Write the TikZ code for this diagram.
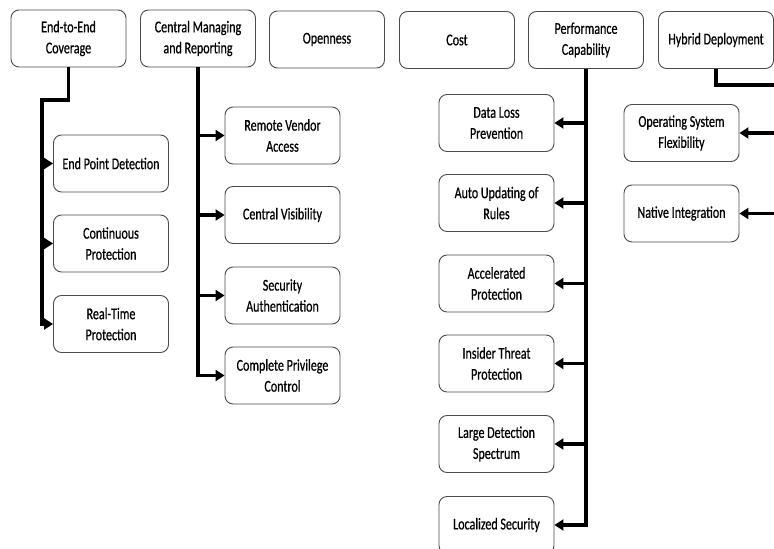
\documentclass[tikz,border=0pt]{standalone}
\usepackage{fontspec}
\setmainfont{Carlito}[FakeStretch=0.73,FakeBold=0.6]
\usetikzlibrary{arrows.meta}
\begin{document}
\begin{tikzpicture}[x=1pt,y=-1pt,
  box/.style={draw=black!70, line width=0.9pt, rounded corners=8pt,
    minimum width=115pt, minimum height=57pt, align=center, inner sep=2pt,
    font=\fontsize{16.5}{21}\selectfont, text=black},
  br/.style={line width=3.5pt, line join=miter, -{Triangle[length=9pt,width=11pt]}}
]
\useasboundingbox (0,0) rectangle (774,549);
\clip (0,0) rectangle (774,549);
% top row
\node[box] (ee) at (68.5,38.5) {End-to-End\\Coverage};
\node[box] (cm) at (198,38.5) {Central Managing\\and Reporting};
\node[box] (op) at (327,39.5) {Openness};
\node[box] (co) at (457,40) {Cost};
\node[box] (pc) at (586,40) {Performance\\Capability};
\node[box] (hd) at (716,40) {Hybrid Deployment};
% End-to-End children
\node[box] (e1) at (111,163.5) {End Point Detection};
\node[box] (e2) at (111,243.5) {Continuous\\Protection};
\node[box] (e3) at (111,324) {Real-Time\\Protection};
% Central children
\node[box] (c1) at (282.5,135.5) {Remote Vendor\\Access};
\node[box] (c2) at (282.5,215) {Central Visibility};
\node[box] (c3) at (282.5,295.5) {Security\\Authentication};
\node[box] (c4) at (282.5,375.5) {Complete Privilege\\Control};
% Performance children
\node[box] (p1) at (496.5,123) {Data Loss\\Prevention};
\node[box] (p2) at (496.5,203) {Auto Updating of\\Rules};
\node[box] (p3) at (496.5,283.5) {Accelerated\\Protection};
\node[box] (p4) at (496.5,363.5) {Insider Threat\\Protection};
\node[box] (p5) at (496.5,444) {Large Detection\\Spectrum};
\node[box] (p6) at (496.5,525) {Localized Security};
% Hybrid children
\node[box] (h1) at (681.5,133) {Operating System\\Flexibility};
\node[box] (h2) at (681.5,213.5) {Native Integration};
% End-to-End connectors
\coordinate (eeA) at (68.5,100);
\coordinate (eeB) at (42,100);
\draw[br] (ee.south) -- (eeA) -- (eeB) -- (eeB |- e3.west) -- (e3.west);
\draw[br] (eeB |- e1.west) -- (e1.west);
\draw[br] (eeB |- e2.west) -- (e2.west);
% Central connectors
\draw[br] (cm.south) -- (cm.south |- c4.west) -- (c4.west);
\draw[br] (cm.south |- c1.west) -- (c1.west);
\draw[br] (cm.south |- c2.west) -- (c2.west);
\draw[br] (cm.south |- c3.west) -- (c3.west);
% Performance connectors
\draw[br] (pc.south) -- (pc.south |- p6.east) -- (p6.east);
\draw[br] (pc.south |- p1.east) -- (p1.east);
\draw[br] (pc.south |- p2.east) -- (p2.east);
\draw[br] (pc.south |- p3.east) -- (p3.east);
\draw[br] (pc.south |- p4.east) -- (p4.east);
\draw[br] (pc.south |- p5.east) -- (p5.east);
% Hybrid connectors
\coordinate (hx) at (790,85);
\draw[br] (hd.south) -- (hd.south |- hx) -- (hx) -- (hx |- h2.east) -- (h2.east);
\draw[br] (hx |- h1.east) -- (h1.east);
\end{tikzpicture}
\end{document}
